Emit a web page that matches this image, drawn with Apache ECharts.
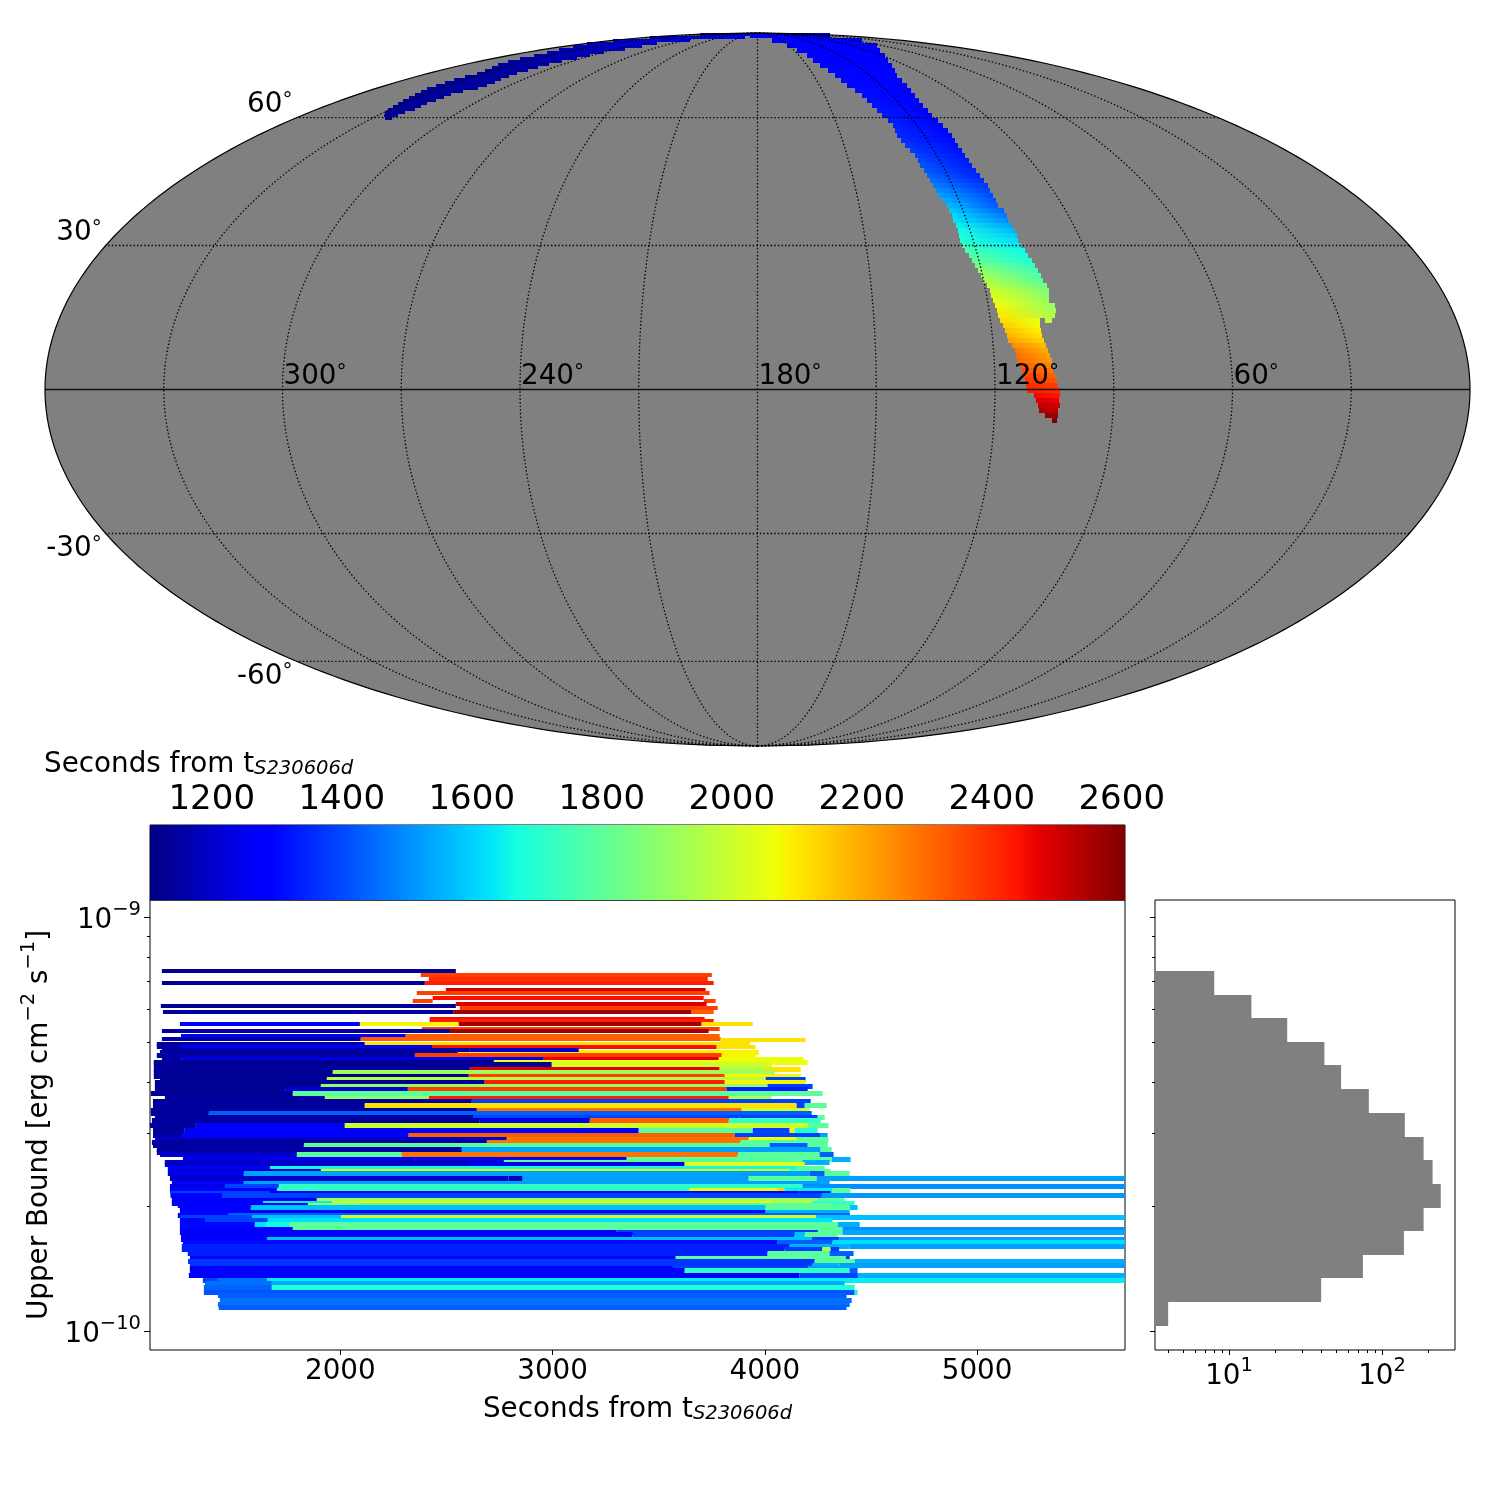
<!DOCTYPE html>
<html><head><meta charset="utf-8">
<script src="https://cdn.jsdelivr.net/npm/echarts@6/dist/echarts.min.js"></script>
<style>html,body{margin:0;padding:0;background:#fff}#c{width:1500px;height:1500px}</style>
</head><body><div id="c"></div>
<script>
// ---------- time range of the colour scale (seconds) ----------
const timeMin = 1105, timeMax = 2605;
const colorbarTicks = [1200,1400,1600,1800,2000,2200,2400,2600];
const timeTicks = [2000,3000,4000,5000];
const decadeTicks = [1e-9,1e-10];
const minorFluxTicks = [9e-10,8e-10,7e-10,6e-10,5e-10,4e-10,3e-10,2e-10];
const countTicks = [10,100];
const minorCountTicks = [4,5,6,7,8,9,20,30,40,50,60,70,80,90,200,300];
// ---------- sky graticule ----------
const meridians = [30,60,90,120,150,180,210,240,270,300,330];
const parallels = [60,30,-30,-60];
const lonLabels = [300,240,180,120,60];
const latLabels = [60,30,-30,-60];
// ---------- histogram: log10 flux bin edges and counts ----------
const histEdges = [-9.130,-9.187,-9.244,-9.301,-9.358,-9.415,-9.473,-9.530,-9.587,-9.644,-9.701,-9.758,-9.815,-9.872,-9.930,-9.987];
const histCounts = [8,14,24,42,54,82,141,187,214,242,187,139,75,40,4];
// ---------- sky localisation in the Mollweide plane: [Y, Xleft, Xright, tLeft, tRight] ----------
const skyArcWest = [
[271.5,-372.5,-365.5,1135,1135],[274.5,-373.5,-359.5,1135,1135],[277.5,-372.5,-352.5,1135,1135],[280.5,-369.5,-342.5,1135,1135],
[283.5,-364.5,-336.5,1135,1135],[286.5,-359.5,-330.5,1138,1138],[289.5,-354.5,-321.5,1138,1138],[292.5,-348.5,-313.5,1138,1138],
[295.5,-342.5,-306.5,1138,1138],[298.5,-336.5,-294.5,1140,1140],[301.5,-330.5,-279.5,1140,1140],[304.5,-321.5,-270.5,1140,1140],
[307.5,-312.5,-262.5,1140,1140],[310.5,-303.5,-256.5,1142,1142],[313.5,-292.5,-248.5,1142,1142],[316.5,-280.5,-240.5,1145,1145],
[319.5,-272.5,-229.5,1145,1145],[322.5,-265.5,-219.5,1148,1148],[325.5,-259.5,-208.5,1150,1150],[328.5,-249.5,-195.5,1150,1155],
[331.5,-237.5,-180.5,1152,1160],[334.5,-223.5,-167.5,1160,1170],[337.5,-210.5,-153.5,1165,1180],[340.5,-198.5,-132.5,1175,1190],
[343.5,-184.5,-115.5,1185,1205],[346.5,-170.5,-100.5,1200,1220],[349.5,-144.5,-67.5,1215,1240],[352.5,-107.5,-12.5,1235,1260],
[355.5,-57.5,17.5,1255,1280]];
const skyArcEast = [
[354.5,-7.5,72.5,1280,1260],[349.5,14.5,104.5,1270,1260],[344.5,29.5,119.5,1280,1265],[339.5,39.5,122.5,1280,1268],
[334.5,49.5,127.5,1285,1270],[329.5,55.5,130.5,1290,1272],[324.5,62.5,134.5,1295,1272],[319.5,70.5,137.5,1300,1275],
[314.5,77.5,139.5,1300,1275],[309.5,83.5,144.5,1305,1278],[304.5,89.5,149.5,1305,1278],[299.5,97.5,153.5,1310,1280],
[294.5,104.5,157.5,1310,1280],[289.5,109.5,161.5,1315,1282],[284.5,114.5,165.5,1320,1285],[279.5,119.5,170.5,1325,1288],
[274.5,124.5,174.5,1330,1290],[269.5,130.5,180.5,1335,1292],[264.5,135.5,185.5,1340,1295],[259.5,137.5,190.5,1345,1298],
[254.5,139.5,194.5,1350,1300],[249.5,143.5,197.5,1360,1305],[244.5,147.5,200.5,1370,1310],[239.5,152.5,204.5,1380,1315],
[234.5,157.5,207.5,1390,1320],[229.5,160.5,211.5,1400,1325],[224.5,162.5,214.5,1415,1330],[219.5,166.5,218.5,1425,1335],
[214.5,169.5,222.5,1440,1340],[209.5,172.5,226.5,1460,1355],[204.5,175.5,230.5,1480,1370],[199.5,178.5,232.5,1505,1385],
[194.5,180.5,235.5,1530,1400],[189.5,185.5,238.5,1550,1410],[184.5,189.5,240.5,1570,1420],[179.5,191.5,246.5,1590,1440],
[174.5,194.5,249.5,1610,1470],[169.5,195.5,250.5,1630,1500],[164.5,198.5,254.5,1650,1530],[159.5,200.5,257.5,1670,1560],
[154.5,201.5,259.5,1680,1590],[149.5,202.5,260.5,1700,1620],[144.5,204.5,263.5,1730,1640],[139.5,207.5,267.5,1760,1660],
[134.5,211.5,270.5,1780,1670],[129.5,214.5,274.5,1810,1690],[124.5,217.5,277.5,1850,1720],[119.5,220.5,280.5,1890,1750],
[114.5,223.5,283.5,1920,1770],[109.5,225.5,285.5,1950,1790],[104.5,229.5,289.5,1980,1830],[99.5,232.5,291.5,2010,1860],
[94.5,233.5,291.5,2030,1880],[89.5,235.5,291.5,2050,1910],[84.5,237.5,297.5,2070,1900],[79.5,239.5,298.5,2090,1920],
[74.5,240.5,297.5,2100,1950],[69.5,242.5,282.5,2120,2050],[69.5,287.5,294.5,1975,1960],[64.5,245.5,282.5,2145,2060],[59.5,247.5,283.5,2170,2080],
[54.5,249.5,284.5,2190,2110],[49.5,250.5,286.5,2220,2130],[44.5,254.5,288.5,2250,2170],[39.5,257.5,290.5,2280,2190],
[34.5,258.5,292.5,2300,2210],[29.5,259.5,294.5,2310,2220],[24.5,262.5,294.5,2330,2250],[19.5,264.5,295.5,2350,2280],
[14.5,265.5,297.5,2370,2310],[9.5,267.5,299.5,2390,2330],[4.5,268.5,300.5,2410,2370],[-0.5,269.5,302.5,2430,2400],
[-5.5,276.5,302.5,2460,2430],[-10.5,278.5,301.5,2490,2470],[-15.5,280.5,302.5,2520,2500],[-20.5,281.5,300.5,2550,2530],
[-25.5,287.5,300.5,2580,2570],[-30.5,294.5,299.5,2600,2600]];
// ---------- upper limits: [log10 flux, start s, end s, time of the sky cell s] ----------
const limitsBright = [
[-9.130,1159,2544,1130],[-9.140,2379,3750,2372],[-9.150,2417,3731,2400],[-9.159,1159,2398,1130],[-9.159,2398,3759,2425],
[-9.176,2497,3721,2490],[-9.183,2360,3740,2372],[-9.195,2435,3712,2447],[-9.203,2341,2435,2372],[-9.203,3712,3768,2372],
[-9.210,2544,3726,2490],[-9.215,1154,2544,1130],[-9.220,2563,3778,2372],[-9.229,1164,2534,1150],[-9.229,2534,3655,2567],[-9.229,3655,3759,2320],
[-9.246,2421,3716,2447],[-9.251,2421,3759,2425],[-9.258,1244,2092,1280],[-9.258,2092,2558,2080],[-9.258,2558,3702,2567],[-9.258,3702,3943,2110],
[-9.270,2384,3787,2372],[-9.275,1159,2516,1140],[-9.275,2516,3735,2567],[-9.287,1249,2308,1260],[-9.287,2308,3787,2320],
[-9.294,1159,2096,1150],[-9.294,2096,3792,2320],[-9.297,3792,4192,2110],[-9.306,1135,2115,1150],[-9.306,2115,3929,2110],
[-9.314,1135,1249,1150],[-9.314,1249,2435,1280],[-9.314,2435,3773,2447],[-9.314,3773,3957,2110],[-9.321,1159,2610,1150],[-9.321,2610,3123,1200]];
const limitsMiddle = [
[-9.328,1150,2553,1140],[-9.328,2553,2610,2110],[-9.328,2610,3971,2080],[-9.333,1135,2351,1150],[-9.333,2351,3797,2372],[-9.333,3797,3957,2080],
[-9.343,1159,1253,1150],[-9.343,1253,2958,1240],[-9.343,2958,3783,2475],[-9.343,3783,4183,2060],[-9.352,1121,2723,1130],[-9.352,2723,4202,2060],
[-9.357,1121,2996,1130],[-9.357,2996,4032,2005],[-9.367,1121,2610,1150],[-9.367,2610,3787,2475],[-9.367,3787,3994,1945],[-9.367,3994,4169,2110],
[-9.376,1121,1964,1130],[-9.376,1964,4046,1922],[-9.386,1121,2605,1130],[-9.386,2605,3811,2372],[-9.386,3811,4169,2080],
[-9.393,1150,1936,1140],[-9.393,1936,3811,1960],[-9.393,3811,4004,1960],[-9.393,4004,4192,1386],
[-9.400,1126,2680,1130],[-9.400,2680,3811,2425],[-9.400,3811,4192,2080],[-9.410,1126,1908,1140],[-9.410,1908,4013,1885],[-9.410,4013,4225,1386],
[-9.417,1126,1740,1130],[-9.417,1740,2318,1210],[-9.417,2318,3820,2372],[-9.417,3820,4202,1330],
[-9.427,1107,1776,1130],[-9.427,1776,4272,1795],[-9.437,1173,1927,1150],[-9.437,1927,2417,1885],[-9.437,2417,3830,2425],[-9.437,3830,4032,1945],
[-9.446,1117,2619,1140],[-9.446,2619,4216,1386],[-9.454,1117,2115,1140],[-9.454,2115,4150,2110],[-9.454,4150,4188,1386],[-9.454,4188,4291,1795],
[-9.466,1107,2643,1140],[-9.466,2643,3891,2290],[-9.466,3891,4211,2005],[-9.473,1107,1380,1140],[-9.473,1380,4221,1433],
[-9.483,1126,2628,1140],[-9.483,2628,3881,1386],[-9.483,3881,4249,1386],[-9.483,4249,4282,1795],
[-9.492,1112,2657,1150],[-9.492,2657,3175,1230],[-9.492,3175,3830,2320],[-9.492,3830,4263,1720],
[-9.504,1103,1319,1140],[-9.504,1319,2021,1280],[-9.504,2021,4202,2005],[-9.504,4202,4300,1795],
[-9.516,1117,1267,1140],[-9.516,1267,3406,1280],[-9.516,3406,3943,1795],[-9.516,3943,4117,1386],[-9.516,4117,4140,2080],[-9.516,4140,4249,1700],
[-9.526,1117,1258,1150],[-9.526,1258,2322,1280],[-9.526,2322,3858,2320],[-9.526,3858,4263,1386],[-9.526,4263,4296,1530],
[-9.536,1126,2784,1200],[-9.536,2784,3924,2290],[-9.536,3924,4150,2060],[-9.536,4150,4300,1795],
[-9.543,1112,2690,1140],[-9.543,2690,3886,2290],[-9.543,3886,4296,1795],[-9.552,1117,1828,1150],[-9.552,1828,4023,1795],[-9.552,4023,4202,1430],[-9.552,4202,4296,1795],
[-9.562,1135,2572,1150],[-9.562,2572,4263,1528],[-9.562,4263,4315,1795]];
const limitsFaint = [
[-9.569,1135,1526,1200],[-9.569,1526,2610,1528],[-9.569,2610,3900,1200],[-9.574,1150,1795,1200],[-9.574,1795,2289,1795],[-9.574,2289,3872,2290],[-9.574,3872,4258,1795],[-9.574,4258,4324,1430],
[-9.584,1258,3349,1260],[-9.584,3349,4315,1795],[-9.584,4315,4404,1551],[-9.593,1173,2770,1200],[-9.593,2770,4178,1795],[-9.593,4178,4305,1551],
[-9.598,1173,2610,1200],[-9.598,2610,3622,1240],[-9.598,3622,4188,2040],[-9.606,1187,1668,1280],[-9.606,1668,4155,1660],[-9.606,4155,4282,1795],
[-9.613,1197,1908,1200],[-9.613,1908,4117,2040],[-9.613,4117,4310,1795],[-9.620,1187,1545,1240],[-9.620,1545,4211,1528],[-9.620,4211,4282,1430],[-9.620,4282,4400,1795],
[-9.632,1197,2793,1200],[-9.632,2793,2859,1180],[-9.632,2859,3924,1528],[-9.632,3924,4244,1795],[-9.632,4244,5695,1528],
[-9.642,1206,1545,1280],[-9.642,1545,4305,1528],[-9.649,1197,1456,1240],[-9.649,1456,1710,1386],[-9.649,1710,4178,1720],[-9.649,4178,5695,1504],
[-9.659,1197,1701,1280],[-9.659,1701,3646,1720],[-9.659,3646,4060,2040],[-9.659,4060,4093,2140],[-9.659,4093,4319,1640],[-9.659,4319,4404,1800],
[-9.666,1200,1668,1386],[-9.666,1668,4164,1280],[-9.666,4164,4310,1330],[-9.673,1200,1442,1280],[-9.673,1442,4268,1386],[-9.673,4268,5695,1515],
[-9.683,1206,1889,1260],[-9.683,1889,4244,1922],[-9.683,4244,4376,1795],[-9.690,1206,1635,1280],[-9.690,1635,1960,1640],[-9.690,1960,2092,1960],[-9.690,2092,4032,2080],[-9.690,4032,4221,1950],[-9.690,4221,4423,1720],
[-9.697,1234,1847,1280],[-9.697,1847,2092,1900],[-9.697,2092,4305,1795],[-9.702,1244,1578,1280],[-9.702,1578,4004,1575],[-9.702,4004,4400,1795],[-9.702,4400,4437,1575],
[-9.712,1244,4004,1285],[-9.712,4004,4400,1551],[-9.719,1234,1470,1280],[-9.719,1470,4400,1433],
[-9.726,1244,1583,1386],[-9.726,1583,2002,1575],[-9.726,2002,4244,2005],[-9.726,4244,5695,1575],
[-9.733,1244,1362,1280],[-9.733,1362,1658,1386],[-9.733,1658,4319,1622],[-9.743,1244,1597,1300],[-9.743,1597,1649,1622],[-9.743,1649,1762,1660],[-9.743,1762,4343,1795],[-9.743,4343,4447,1551],
[-9.753,1244,1776,1280],[-9.753,1776,4366,1795],[-9.753,4366,5695,1504],[-9.762,1244,3300,1285],[-9.762,3300,4250,1386],[-9.762,4250,4366,1795],[-9.762,4366,5695,1540],
[-9.767,1249,3377,1280],[-9.767,3377,4140,1386],[-9.767,4140,4188,1575],[-9.767,4188,4343,1795],
[-9.777,1249,1654,1285],[-9.777,1654,4221,1575],[-9.777,4221,4352,1386],[-9.777,4352,5695,1528],
[-9.786,1258,4060,1300],[-9.786,4060,4319,1433],[-9.786,4319,5695,1622],[-9.796,1253,4117,1340],[-9.796,4117,4400,1551],[-9.796,4400,5695,1528],
[-9.803,1253,4093,1340],[-9.803,4093,4271,1386],[-9.803,4271,4310,1945],[-9.803,4310,4350,1386],
[-9.813,1281,4013,1340],[-9.813,4013,4305,1795],[-9.813,4305,4418,1433],[-9.823,1291,3580,1280],[-9.823,3580,4381,1795],[-9.823,4381,4400,1386],
[-9.832,1282,4235,1370],[-9.832,4235,4423,1795],[-9.832,4423,5695,1551],[-9.840,1291,4225,1370],[-9.840,4225,4352,1551],[-9.840,4352,5695,1528],
[-9.849,1291,3566,1280],[-9.849,3566,4060,1386],[-9.849,4060,4202,1386],[-9.849,4202,4430,1528],
[-9.854,1291,3622,1280],[-9.854,3622,4400,1720],[-9.854,4400,4437,1433],[-9.864,1286,4164,1280],[-9.864,4164,4440,1386],[-9.866,4437,5695,1551],
[-9.876,1352,1423,1386],[-9.876,1423,1654,1457],[-9.876,1654,5695,1640],[-9.885,1362,1677,1457],[-9.885,1677,4376,1551],[-9.893,1357,1677,1440],[-9.893,1677,4423,1690],
[-9.905,1357,4423,1415],[-9.905,4423,4437,1660],[-9.914,1423,4385,1433],[-9.924,1432,4409,1457],[-9.934,1423,4400,1457],[-9.943,1427,4385,1433]];

// ---------- matplotlib "jet" colour map ----------
const jetR = [[0,0],[0.35,0],[0.66,1],[0.89,1],[1,0.5]];
const jetG = [[0,0],[0.125,0],[0.375,1],[0.64,1],[0.91,0],[1,0]];
const jetB = [[0,0.5],[0.11,1],[0.34,1],[0.65,0],[1,0]];
function chan(table,f){for(let i=1;i<table.length;i++){if(f<=table[i][0]){const a=table[i-1],b=table[i];return a[1]+(b[1]-a[1])*(f-a[0])/(b[0]-a[0]);}}return table[table.length-1][1];}
function jetAt(f){f=Math.max(0,Math.min(1,f));return 'rgb('+Math.round(255*chan(jetR,f))+','+Math.round(255*chan(jetG,f))+','+Math.round(255*chan(jetB,f))+')';}
function jet(t){return jetAt((t-timeMin)/(timeMax-timeMin));}
const jetStops=[...new Set([...jetR,...jetG,...jetB].map(p=>p[0]))].sort((a,b)=>a-b).map(o=>({offset:o,color:jetAt(o)}));

// ---------- Mollweide projection onto the plane used by the sky axes ----------
const skyA=712.5, skyB=356.5;
function moll(lon,lat){
  const phi=lat*Math.PI/180; let th=phi;
  if(Math.abs(lat)>=90) th=phi; else for(let i=0;i<40;i++){th-=(2*th+Math.sin(2*th)-Math.PI*Math.sin(phi))/(2+2*Math.cos(2*th));}
  return [-(lon-180)/180*skyA*Math.cos(th), skyB*Math.sin(th)];
}
const sweep=[];for(let l=-90;l<=90;l+=1)sweep.push(l);

const FF='"DejaVu Sans"', FS=27.8, BLK='#000';
const subRich={m:{fontFamily:FF,fontSize:FS,fontWeight:'normal',color:BLK},s:{fontFamily:FF,fontSize:19.5,fontWeight:'normal',fontStyle:'italic',color:BLK,verticalAlign:'bottom',padding:[8,0,0,0]}};
const powRich={a:{fontFamily:FF,fontSize:FS,color:BLK,verticalAlign:'bottom',padding:[7,0,0,0]},b:{fontFamily:FF,fontSize:19.5,color:BLK,verticalAlign:'top'}};
const powLabel=v=>'{a|10}{b|'+String(Math.round(Math.log10(v))).replace('-','\u2212')+'}';
const degRich={n:{fontFamily:FF,fontSize:FS,color:BLK},d:{fontFamily:FF,fontSize:20,color:BLK,verticalAlign:'top'}};

const exp10=e=>Math.pow(10,e);
const fluxMin=exp10(-10.0446), fluxMax=exp10(-8.959);
const countMin=exp10(0.516), countMax=exp10(2.477);
const hidden={show:false};

const skyRow=half=>(params,api)=>{
  const y=api.value(0), a=api.coord([api.value(1),y+half]), b=api.coord([api.value(2),y-half]);
  const top=Math.round(a[1]), bot=Math.round(b[1]);
  return {type:'rect',shape:{x:a[0],y:top,width:b[0]-a[0],height:bot-top},
    style:{fill:{type:'linear',x:0,y:0,x2:1,y2:0,colorStops:[{offset:0,color:jet(api.value(3))},{offset:1,color:jet(api.value(4))}]}}};
};
const limitRow=thick=>(params,api)=>{
  const f=exp10(api.value(0)), a=api.coord([api.value(1),f]), b=api.coord([api.value(2),f]);
  return {type:'rect',shape:{x:a[0],y:Math.round(a[1]-thick/2),width:b[0]-a[0],height:thick},style:{fill:jet(api.value(3))}};
};
const skySeries=(name,data,render)=>({name,type:'custom',xAxisIndex:0,yAxisIndex:0,data,renderItem:render,silent:true,clip:false});
const limitSeries=(name,data,thick)=>({name,type:'custom',xAxisIndex:2,yAxisIndex:2,data,renderItem:limitRow(thick),silent:true});
const minorAxis=(pos,idx,vals)=>({gridIndex:idx,type:'log',logBase:10,position:pos,axisLine:{show:false},splitLine:{show:false},
  axisTick:{show:true,length:3,lineStyle:{color:BLK,width:1},customValues:vals},axisLabel:{show:false}});
const skyEdge=api=>sweep.map(l=>api.coord(moll(0.0001,l))).concat(sweep.slice().reverse().map(l=>api.coord(moll(359.9999,l))));

const option={
  animation:false,backgroundColor:'#fff',
  title:{text:'{m|Seconds from t}{s|S230606d}',left:39,top:746,textStyle:{rich:subRich,fontFamily:FF,fontSize:FS,fontWeight:'normal'}},
  grid:[
    {left:45,top:33,width:1425,height:713,show:false},
    {left:150,top:825,width:975,height:75,show:true,borderColor:BLK,borderWidth:1,backgroundColor:'transparent'},
    {left:150,top:900,width:975,height:450,show:true,borderColor:BLK,borderWidth:1,backgroundColor:'transparent'},
    {left:1155,top:900,width:300,height:450,show:true,borderColor:BLK,borderWidth:1,backgroundColor:'transparent'}
  ],
  xAxis:[
    {gridIndex:0,type:'value',min:-skyA,max:skyA,show:false},
    {gridIndex:1,type:'value',position:'top',min:timeMin,max:timeMax,splitLine:hidden,axisLine:{show:false},
      axisTick:{length:5,inside:false,lineStyle:{color:BLK},customValues:colorbarTicks},
      axisLabel:{fontFamily:FF,fontSize:34,color:BLK,margin:8,customValues:colorbarTicks,hideOverlap:false,formatter:v=>String(v)}},
    {gridIndex:2,type:'value',min:1103,max:5697,splitLine:hidden,axisLine:{show:false},
      axisTick:{length:5,lineStyle:{color:BLK},customValues:timeTicks},
      axisLabel:{fontFamily:FF,fontSize:FS,color:BLK,margin:8,customValues:timeTicks,formatter:v=>String(v)},
      name:'{m|Seconds from t}{s|S230606d}',nameLocation:'middle',nameGap:46,nameTextStyle:{rich:subRich}},
    {gridIndex:3,type:'log',logBase:10,min:countMin,max:countMax,splitLine:hidden,axisLine:{show:false},
      axisTick:{length:5,lineStyle:{color:BLK},customValues:countTicks},
      axisLabel:{customValues:countTicks,margin:6,formatter:powLabel,rich:powRich}},
    Object.assign(minorAxis('bottom',3,minorCountTicks),{min:countMin,max:countMax})
  ],
  yAxis:[
    {gridIndex:0,type:'value',min:-skyB,max:skyB,show:false},
    {gridIndex:1,type:'value',min:0,max:1,show:false},
    {gridIndex:2,type:'log',logBase:10,min:fluxMin,max:fluxMax,splitLine:hidden,axisLine:{show:false},
      axisTick:{length:6,lineStyle:{color:BLK},customValues:decadeTicks},
      axisLabel:{customValues:decadeTicks,margin:9,formatter:powLabel,rich:powRich},
      name:'{m|Upper Bound [erg cm}{u|\u22122}{m| s}{u|\u22121}{m|]}',nameLocation:'middle',nameRotate:90,nameGap:96,
      nameTextStyle:{rich:{m:powRich.a,u:powRich.b}}},
    Object.assign(minorAxis('left',2,minorFluxTicks),{min:fluxMin,max:fluxMax}),
    {gridIndex:3,type:'log',logBase:10,min:fluxMin,max:fluxMax,splitLine:hidden,axisLine:{show:false},
      axisTick:{length:5,lineStyle:{color:BLK},customValues:decadeTicks},axisLabel:{show:false}},
    Object.assign(minorAxis('left',3,minorFluxTicks),{min:fluxMin,max:fluxMax})
  ],
  series:[
    skySeries('sky disc',[0],(p,api)=>({type:'polygon',shape:{points:skyEdge(api)},style:{fill:'#808080'}})),
    skySeries('west arc',skyArcWest,skyRow(1.5)),
    skySeries('east arc',skyArcEast,skyRow(2.5)),
    skySeries('meridians',meridians,(p,api)=>({type:'polyline',shape:{points:sweep.map(l=>api.coord(moll(api.value(0),l)))},
      style:{fill:null,stroke:BLK,lineWidth:1.3,lineDash:[1.4,2.2]}})),
    skySeries('parallels',parallels,(p,api)=>{
      const a=api.coord(moll(0.0001,api.value(0))), b=api.coord(moll(359.9999,api.value(0)));
      return {type:'line',shape:{x1:a[0],y1:a[1],x2:b[0],y2:b[1]},style:{stroke:BLK,lineWidth:1.3,lineDash:[1.4,2.2]}};
    }),
    skySeries('equator',[0],(p,api)=>{
      const a=api.coord(moll(0.0001,api.value(0))), b=api.coord(moll(359.9999,api.value(0)));
      return {type:'line',shape:{x1:a[0],y1:a[1],x2:b[0],y2:b[1]},style:{stroke:'#111',lineWidth:1.4}};
    }),
    skySeries('outline',[0],(p,api)=>({type:'polygon',shape:{points:skyEdge(api)},style:{fill:null,stroke:BLK,lineWidth:1.2}})),
    skySeries('longitude labels',lonLabels,(p,api)=>{
      const a=api.coord(moll(api.value(0),0));
      return {type:'text',x:a[0]+1,y:a[1]+1,style:{text:'{n|'+api.value(0)+'}{d|\u00b0}',rich:degRich,align:'left',verticalAlign:'bottom'}};
    }),
    skySeries('latitude labels',latLabels,(p,api)=>{
      const lat=api.value(0), a=api.coord(moll(359.9999,lat));
      return {type:'text',x:a[0]-4,y:a[1]+1,style:{text:'{n|'+lat+'}{d|\u00b0}',rich:degRich,align:'right',verticalAlign:lat>0?'bottom':'top'}};
    }),
    {name:'colour bar',type:'custom',xAxisIndex:1,yAxisIndex:1,data:[[timeMin,timeMax]],silent:true,renderItem:(p,api)=>{
      const a=api.coord([api.value(0),1]), b=api.coord([api.value(1),0]);
      return {type:'rect',shape:{x:a[0],y:a[1],width:b[0]-a[0],height:b[1]-a[1]},style:{fill:{type:'linear',x:0,y:0,x2:1,y2:0,colorStops:jetStops}}};
    }},
    limitSeries('long-lived faint limits',limitsFaint,5),
    limitSeries('middle limits',limitsMiddle,5),
    limitSeries('bright limits',limitsBright,4),
    {name:'histogram',type:'custom',xAxisIndex:3,yAxisIndex:4,data:histCounts.map((c,i)=>[c,histEdges[i],histEdges[i+1]]),silent:true,renderItem:(p,api)=>{
      const a=api.coord([countMin,exp10(api.value(1))]), b=api.coord([api.value(0),exp10(api.value(2))]);
      const top=Math.round(a[1]), bot=Math.round(b[1]);
      return {type:'rect',shape:{x:a[0],y:top,width:b[0]-a[0],height:bot-top},style:{fill:'#808080'}};
    }}
  ]
};
const chart=echarts.init(document.getElementById('c'),null,{renderer:'canvas',width:1500,height:1500});
chart.setOption(option);
</script></body></html>
